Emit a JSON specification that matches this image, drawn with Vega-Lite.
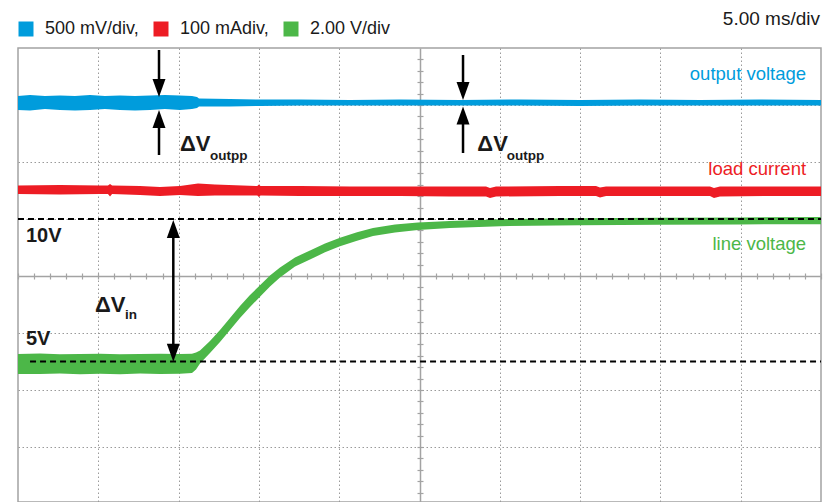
{
  "$schema": "https://vega.github.io/schema/vega-lite/v6.json",
  "width": 803,
  "height": 454,
  "autosize": {"type": "none"},
  "padding": {"left": 18, "top": 48, "right": 12, "bottom": 0},
  "background": "white",
  "title": {"text": "5.00 ms/div", "anchor": "end", "fontSize": 19, "fontWeight": "normal", "color": "#1a1a1a", "offset": -9, "dx": -2},
  "config": {
    "font": "Liberation Sans",
    "view": {"stroke": "#a3a3a3", "strokeWidth": 1.5},
    "axis": {"labels": false, "domainColor": "#a3a3a3", "tickColor": "#a3a3a3", "gridColor": "#a3a3a3", "zindex": 0}
  },
  "datasets": {
    "traces": [
      {"ch": "500 mV/div,", "t": 0, "lo": 2.912, "hi": 3.158},
      {"ch": "500 mV/div,", "t": 0.747, "lo": 2.904, "hi": 3.175},
      {"ch": "500 mV/div,", "t": 1.681, "lo": 2.930, "hi": 3.158},
      {"ch": "500 mV/div,", "t": 2.615, "lo": 2.912, "hi": 3.167},
      {"ch": "500 mV/div,", "t": 3.549, "lo": 2.904, "hi": 3.158},
      {"ch": "500 mV/div,", "t": 4.483, "lo": 2.912, "hi": 3.175},
      {"ch": "500 mV/div,", "t": 5.417, "lo": 2.930, "hi": 3.158},
      {"ch": "500 mV/div,", "t": 6.351, "lo": 2.912, "hi": 3.167},
      {"ch": "500 mV/div,", "t": 7.285, "lo": 2.904, "hi": 3.158},
      {"ch": "500 mV/div,", "t": 8.219, "lo": 2.912, "hi": 3.167},
      {"ch": "500 mV/div,", "t": 9.153, "lo": 2.930, "hi": 3.175},
      {"ch": "500 mV/div,", "t": 10.087, "lo": 2.912, "hi": 3.167},
      {"ch": "500 mV/div,", "t": 10.834, "lo": 2.930, "hi": 3.158},
      {"ch": "500 mV/div,", "t": 11.146, "lo": 2.947, "hi": 3.140},
      {"ch": "500 mV/div,", "t": 11.270, "lo": 2.974, "hi": 3.114},
      {"ch": "500 mV/div,", "t": 13.200, "lo": 2.974, "hi": 3.105},
      {"ch": "500 mV/div,", "t": 15.068, "lo": 2.982, "hi": 3.096},
      {"ch": "500 mV/div,", "t": 17.559, "lo": 2.991, "hi": 3.096},
      {"ch": "500 mV/div,", "t": 20.672, "lo": 2.991, "hi": 3.088},
      {"ch": "500 mV/div,", "t": 23.785, "lo": 2.991, "hi": 3.096},
      {"ch": "500 mV/div,", "t": 27.521, "lo": 2.991, "hi": 3.088},
      {"ch": "500 mV/div,", "t": 31.258, "lo": 2.991, "hi": 3.096},
      {"ch": "500 mV/div,", "t": 34.994, "lo": 2.982, "hi": 3.088},
      {"ch": "500 mV/div,", "t": 38.730, "lo": 2.991, "hi": 3.096},
      {"ch": "500 mV/div,", "t": 42.466, "lo": 2.991, "hi": 3.088},
      {"ch": "500 mV/div,", "t": 46.202, "lo": 2.991, "hi": 3.096},
      {"ch": "500 mV/div,", "t": 50, "lo": 2.991, "hi": 3.088},

      {"ch": "100 mAdiv,", "t": 0, "lo": 1.439, "hi": 1.588},
      {"ch": "100 mAdiv,", "t": 2.615, "lo": 1.430, "hi": 1.596},
      {"ch": "100 mAdiv,", "t": 5.106, "lo": 1.439, "hi": 1.588},
      {"ch": "100 mAdiv,", "t": 5.6, "lo": 1.439, "hi": 1.588},
      {"ch": "100 mAdiv,", "t": 5.73, "lo": 1.395, "hi": 1.614},
      {"ch": "100 mAdiv,", "t": 5.86, "lo": 1.439, "hi": 1.588},
      {"ch": "100 mAdiv,", "t": 7.597, "lo": 1.421, "hi": 1.579},
      {"ch": "100 mAdiv,", "t": 8.842, "lo": 1.404, "hi": 1.561},
      {"ch": "100 mAdiv,", "t": 10.087, "lo": 1.421, "hi": 1.579},
      {"ch": "100 mAdiv,", "t": 11.208, "lo": 1.404, "hi": 1.623},
      {"ch": "100 mAdiv,", "t": 12.266, "lo": 1.412, "hi": 1.605},
      {"ch": "100 mAdiv,", "t": 14.9, "lo": 1.412, "hi": 1.579},
      {"ch": "100 mAdiv,", "t": 15.0, "lo": 1.386, "hi": 1.605},
      {"ch": "100 mAdiv,", "t": 15.1, "lo": 1.412, "hi": 1.579},
      {"ch": "100 mAdiv,", "t": 17.559, "lo": 1.404, "hi": 1.579},
      {"ch": "100 mAdiv,", "t": 20.672, "lo": 1.404, "hi": 1.570},
      {"ch": "100 mAdiv,", "t": 23.785, "lo": 1.404, "hi": 1.570},
      {"ch": "100 mAdiv,", "t": 26.899, "lo": 1.395, "hi": 1.570},
      {"ch": "100 mAdiv,", "t": 29.141, "lo": 1.395, "hi": 1.570},
      {"ch": "100 mAdiv,", "t": 29.390, "lo": 1.368, "hi": 1.544},
      {"ch": "100 mAdiv,", "t": 29.764, "lo": 1.395, "hi": 1.570},
      {"ch": "100 mAdiv,", "t": 33.748, "lo": 1.404, "hi": 1.579},
      {"ch": "100 mAdiv,", "t": 35.990, "lo": 1.404, "hi": 1.579},
      {"ch": "100 mAdiv,", "t": 36.239, "lo": 1.377, "hi": 1.553},
      {"ch": "100 mAdiv,", "t": 36.613, "lo": 1.404, "hi": 1.570},
      {"ch": "100 mAdiv,", "t": 42.466, "lo": 1.404, "hi": 1.570},
      {"ch": "100 mAdiv,", "t": 43.088, "lo": 1.404, "hi": 1.570},
      {"ch": "100 mAdiv,", "t": 43.337, "lo": 1.368, "hi": 1.544},
      {"ch": "100 mAdiv,", "t": 43.711, "lo": 1.395, "hi": 1.570},
      {"ch": "100 mAdiv,", "t": 47.447, "lo": 1.404, "hi": 1.570},
      {"ch": "100 mAdiv,", "t": 50, "lo": 1.404, "hi": 1.570},

      {"ch": "2.00 V/div", "t": 0, "lo": -1.719, "hi": -1.368},
      {"ch": "2.00 V/div", "t": 1.370, "lo": -1.720, "hi": -1.360},
      {"ch": "2.00 V/div", "t": 2.615, "lo": -1.710, "hi": -1.375},
      {"ch": "2.00 V/div", "t": 3.861, "lo": -1.725, "hi": -1.370},
      {"ch": "2.00 V/div", "t": 5.106, "lo": -1.715, "hi": -1.365},
      {"ch": "2.00 V/div", "t": 6.351, "lo": -1.722, "hi": -1.372},
      {"ch": "2.00 V/div", "t": 7.597, "lo": -1.712, "hi": -1.368},
      {"ch": "2.00 V/div", "t": 8.842, "lo": -1.720, "hi": -1.362},
      {"ch": "2.00 V/div", "t": 10.087, "lo": -1.716, "hi": -1.370},
      {"ch": "2.00 V/div", "t": 10.834, "lo": -1.700, "hi": -1.365},
      {"ch": "2.00 V/div", "t": 11.084, "lo": -1.640, "hi": -1.342},
      {"ch": "2.00 V/div", "t": 11.333, "lo": -1.535, "hi": -1.307},
      {"ch": "2.00 V/div", "t": 11.955, "lo": -1.353, "hi": -1.139},
      {"ch": "2.00 V/div", "t": 12.578, "lo": -1.160, "hi": -0.946},
      {"ch": "2.00 V/div", "t": 13.201, "lo": -0.949, "hi": -0.735},
      {"ch": "2.00 V/div", "t": 13.823, "lo": -0.739, "hi": -0.525},
      {"ch": "2.00 V/div", "t": 14.446, "lo": -0.546, "hi": -0.332},
      {"ch": "2.00 V/div", "t": 15.069, "lo": -0.362, "hi": -0.164},
      {"ch": "2.00 V/div", "t": 15.691, "lo": -0.184, "hi": 0.009},
      {"ch": "2.00 V/div", "t": 16.314, "lo": -0.026, "hi": 0.149},
      {"ch": "2.00 V/div", "t": 17.248, "lo": 0.165, "hi": 0.326},
      {"ch": "2.00 V/div", "t": 18.182, "lo": 0.289, "hi": 0.447},
      {"ch": "2.00 V/div", "t": 19.116, "lo": 0.415, "hi": 0.568},
      {"ch": "2.00 V/div", "t": 20.050, "lo": 0.522, "hi": 0.671},
      {"ch": "2.00 V/div", "t": 21.109, "lo": 0.620, "hi": 0.766},
      {"ch": "2.00 V/div", "t": 22.105, "lo": 0.700, "hi": 0.844},
      {"ch": "2.00 V/div", "t": 23.475, "lo": 0.763, "hi": 0.904},
      {"ch": "2.00 V/div", "t": 24.907, "lo": 0.806, "hi": 0.938},
      {"ch": "2.00 V/div", "t": 26.899, "lo": 0.840, "hi": 0.967},
      {"ch": "2.00 V/div", "t": 30.013, "lo": 0.874, "hi": 0.996},
      {"ch": "2.00 V/div", "t": 34.994, "lo": 0.891, "hi": 1.014},
      {"ch": "2.00 V/div", "t": 39.975, "lo": 0.900, "hi": 1.023},
      {"ch": "2.00 V/div", "t": 44.957, "lo": 0.905, "hi": 1.028},
      {"ch": "2.00 V/div", "t": 50, "lo": 0.910, "hi": 1.033}
    ],
    "levels": [
      {"t": 0, "t2": 50, "v": 1.0},
      {"t": 0.75, "t2": 50, "v": -1.5}
    ],
    "shafts": [
      {"t": 8.78, "v": 3.965, "v2": 3.298},
      {"t": 8.78, "v": 2.737, "v2": 2.123},
      {"t": 27.71, "v": 3.877, "v2": 3.246},
      {"t": 27.71, "v": 2.807, "v2": 2.158},
      {"t": 9.67, "v": 0.807, "v2": -1.333}
    ],
    "headsDown": [
      {"t": 8.78, "v": 3.140},
      {"t": 27.71, "v": 3.088},
      {"t": 9.67, "v": -1.504}
    ],
    "headsUp": [
      {"t": 8.78, "v": 2.912},
      {"t": 27.71, "v": 2.974},
      {"t": 9.67, "v": 0.982}
    ],
    "deltas": [
      {"t": 10.087, "v": 2.193, "s": "ΔV"},
      {"t": 28.60, "v": 2.193, "s": "ΔV"},
      {"t": 4.795, "v": -0.626, "s": "ΔV"}
    ],
    "subs": [
      {"t": 11.955, "v": 2.035, "s": "outpp"},
      {"t": 30.43, "v": 2.035, "s": "outpp"},
      {"t": 6.663, "v": -0.760, "s": "in"}
    ],
    "volts": [
      {"t": 0.498, "v": 0.591, "s": "10V"},
      {"t": 0.498, "v": -1.211, "s": "5V"}
    ],
    "names": [
      {"ch": "500 mV/div,", "t": 49.07, "v": 3.439, "s": "output voltage"},
      {"ch": "100 mAdiv,", "t": 49.07, "v": 1.772, "s": "load current"},
      {"ch": "2.00 V/div", "t": 49.07, "v": 0.456, "s": "line voltage"}
    ]
  },
  "resolve": {"axis": {"x": "independent", "y": "independent"}},
  "layer": [
    {
      "data": {"name": "traces"},
      "mark": {"type": "area", "opacity": 1, "interpolate": "linear"},
      "encoding": {
        "x": {"field": "t", "type": "quantitative",
              "scale": {"domain": [0, 50], "nice": false, "zero": false},
              "axis": {"orient": "bottom", "offset": -226, "title": null, "labels": false, "grid": false,
                       "domain": true, "domainWidth": 1.5, "ticks": true, "tickSize": 3, "tickWidth": 1.2,
                       "values": [0,1,2,3,4,5,6,7,8,9,10,11,12,13,14,15,16,17,18,19,20,21,22,23,24,25,26,27,28,29,30,31,32,33,34,35,36,37,38,39,40,41,42,43,44,45,46,47,48,49,50]}},
        "y": {"field": "hi", "type": "quantitative",
              "scale": {"domain": [-3.965, 4], "nice": false, "zero": false},
              "axis": {"orient": "left", "offset": -402, "title": null, "labels": false, "grid": false,
                       "domain": true, "domainWidth": 1.5, "ticks": true, "tickSize": 3, "tickWidth": 1.2,
                       "values": [-3.8,-3.6,-3.4,-3.2,-3,-2.8,-2.6,-2.4,-2.2,-2,-1.8,-1.6,-1.4,-1.2,-1,-0.8,-0.6,-0.4,-0.2,0,0.2,0.4,0.6,0.8,1,1.2,1.4,1.6,1.8,2,2.2,2.4,2.6,2.8,3,3.2,3.4,3.6,3.8]}},
        "y2": {"field": "lo"},
        "color": {"field": "ch", "type": "nominal",
                  "scale": {"domain": ["500 mV/div,", "100 mAdiv,", "2.00 V/div"], "range": ["#009cdc", "#ed1c24", "#4cb748"]},
                  "legend": {"orient": "none", "legendX": -1, "legendY": -28, "direction": "horizontal", "title": null,
                             "symbolType": "square", "symbolSize": 225, "symbolStrokeWidth": 0, "symbolOpacity": 1,
                             "labelFontSize": 18, "labelOffset": 10, "columnPadding": 13, "labelColor": "#1a1a1a", "labelLimit": 300}}
      }
    },
    {
      "data": {"name": "levels"},
      "mark": {"type": "rule", "color": "black", "strokeWidth": 2, "strokeDash": [6, 4]},
      "encoding": {
        "x": {"field": "t", "type": "quantitative",
              "axis": {"orient": "top", "offset": -228, "title": null, "labels": false, "grid": false,
                       "domain": false, "ticks": true, "tickSize": 3, "tickWidth": 1.2,
                       "values": [0,1,2,3,4,5,6,7,8,9,10,11,12,13,14,15,16,17,18,19,20,21,22,23,24,25,26,27,28,29,30,31,32,33,34,35,36,37,38,39,40,41,42,43,44,45,46,47,48,49,50]}},
        "x2": {"field": "t2"},
        "y": {"field": "v", "type": "quantitative",
              "axis": {"orient": "right", "offset": -401, "title": null, "labels": false, "grid": false,
                       "domain": false, "ticks": true, "tickSize": 3, "tickWidth": 1.2,
                       "values": [-3.8,-3.6,-3.4,-3.2,-3,-2.8,-2.6,-2.4,-2.2,-2,-1.8,-1.6,-1.4,-1.2,-1,-0.8,-0.6,-0.4,-0.2,0,0.2,0.4,0.6,0.8,1,1.2,1.4,1.6,1.8,2,2.2,2.4,2.6,2.8,3,3.2,3.4,3.6,3.8]}}
      }
    },
    {
      "data": {"name": "shafts"},
      "mark": {"type": "rule", "color": "black", "strokeWidth": 2.5},
      "encoding": {
        "x": {"field": "t", "type": "quantitative",
              "axis": {"orient": "bottom", "title": null, "labels": false, "ticks": false, "domain": false,
                       "grid": true, "gridDash": [1.5, 2.5], "gridWidth": 1, "gridColor": "#9a9a9a",
                       "values": [5, 10, 15, 20, 30, 35, 40, 45]}},
        "y": {"field": "v", "type": "quantitative",
              "axis": {"orient": "left", "title": null, "labels": false, "ticks": false, "domain": false,
                       "grid": true, "gridDash": [1.5, 2.5], "gridWidth": 1, "gridColor": "#9a9a9a",
                       "values": [-3, -2, -1, 1, 2, 3]}},
        "y2": {"field": "v2"}
      }
    },
    {
      "data": {"name": "headsDown"},
      "mark": {"type": "point", "shape": "M0,0L-0.72,-2L0.72,-2Z", "size": 324, "filled": true, "color": "black", "opacity": 1, "strokeWidth": 0},
      "encoding": {
        "x": {"field": "t", "type": "quantitative", "axis": null},
        "y": {"field": "v", "type": "quantitative", "axis": null}
      }
    },
    {
      "data": {"name": "headsUp"},
      "mark": {"type": "point", "shape": "M0,0L-0.72,2L0.72,2Z", "size": 324, "filled": true, "color": "black", "opacity": 1, "strokeWidth": 0},
      "encoding": {
        "x": {"field": "t", "type": "quantitative", "axis": null},
        "y": {"field": "v", "type": "quantitative", "axis": null}
      }
    },
    {
      "data": {"name": "deltas"},
      "mark": {"type": "text", "fontSize": 22, "fontWeight": "bold", "align": "left", "baseline": "alphabetic", "color": "#1a1a1a"},
      "encoding": {
        "x": {"field": "t", "type": "quantitative", "axis": null},
        "y": {"field": "v", "type": "quantitative", "axis": null},
        "text": {"field": "s"}
      }
    },
    {
      "data": {"name": "subs"},
      "mark": {"type": "text", "fontSize": 13.5, "fontWeight": "bold", "align": "left", "baseline": "alphabetic", "color": "#1a1a1a"},
      "encoding": {
        "x": {"field": "t", "type": "quantitative", "axis": null},
        "y": {"field": "v", "type": "quantitative", "axis": null},
        "text": {"field": "s"}
      }
    },
    {
      "data": {"name": "volts"},
      "mark": {"type": "text", "fontSize": 20, "fontWeight": "bold", "align": "left", "baseline": "alphabetic", "color": "#1a1a1a"},
      "encoding": {
        "x": {"field": "t", "type": "quantitative", "axis": null},
        "y": {"field": "v", "type": "quantitative", "axis": null},
        "text": {"field": "s"}
      }
    },
    {
      "data": {"name": "names"},
      "mark": {"type": "text", "fontSize": 18.5, "align": "right", "baseline": "alphabetic"},
      "encoding": {
        "x": {"field": "t", "type": "quantitative", "axis": null},
        "y": {"field": "v", "type": "quantitative", "axis": null},
        "text": {"field": "s"},
        "color": {"field": "ch", "type": "nominal", "legend": null}
      }
    }
  ]
}
